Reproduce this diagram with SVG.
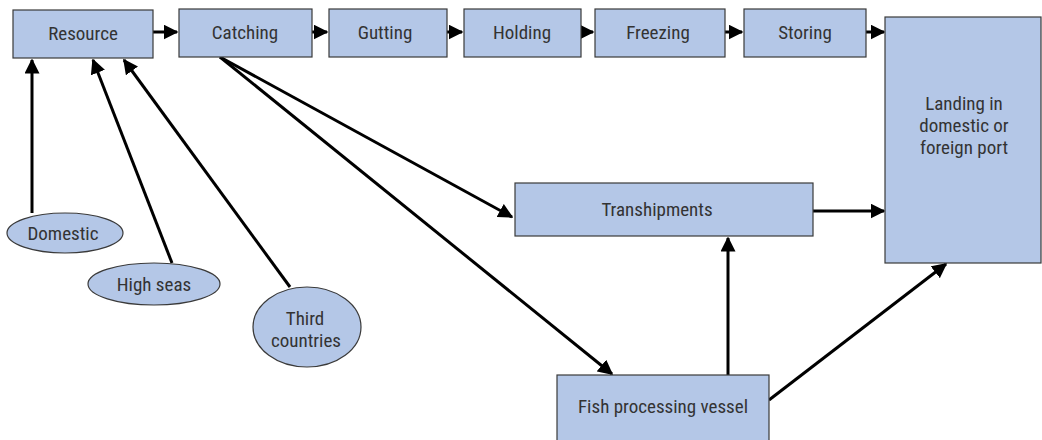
<svg xmlns="http://www.w3.org/2000/svg" width="1042" height="440" viewBox="0 0 1042 440">
<style>
.n{fill:#b4c7e7;stroke:#3a3a3a;stroke-width:1.2}
.t{font-family:Roboto,"Liberation Sans",sans-serif;font-size:19px;fill:#333;text-anchor:middle;font-stretch:condensed}
.c{stroke:#000;stroke-width:3;fill:none;marker-end:url(#a)}
</style>
<defs>
<marker id="a" markerWidth="5" markerHeight="5" refX="4.5" refY="2.5" orient="auto" markerUnits="strokeWidth">
<path d="M0,0 L5,2.5 L0,5 Z" fill="#000"/>
</marker>
</defs>
<g id="connectors">
<line class="c" x1="153" y1="32" x2="177" y2="32"/>
<line class="c" x1="312" y1="32" x2="327" y2="32"/>
<line class="c" x1="447" y1="32" x2="462" y2="32"/>
<line class="c" x1="581" y1="32" x2="593" y2="32"/>
<line class="c" x1="725" y1="32" x2="742" y2="32"/>
<line class="c" x1="866" y1="32" x2="884" y2="32"/>
<line class="c" x1="32" y1="213" x2="32" y2="60"/>
<line class="c" x1="172" y1="263" x2="93" y2="60"/>
<line class="c" x1="290" y1="287" x2="124" y2="60"/>
<line class="c" x1="220" y1="57" x2="512" y2="217"/>
<line class="c" x1="220" y1="57" x2="612" y2="374"/>
<line class="c" x1="813" y1="211" x2="884" y2="211"/>
<line class="c" x1="728" y1="375" x2="728" y2="238"/>
<line class="c" x1="769" y1="400" x2="946" y2="264"/>
</g>
<g id="resource"><rect class="n" x="13" y="10" width="140" height="48"/><text class="t" x="83" y="40">Resource</text></g>
<g id="catching"><rect class="n" x="179" y="9" width="133" height="48"/><text class="t" x="245" y="39">Catching</text></g>
<g id="gutting"><rect class="n" x="329" y="9" width="118" height="48"/><text class="t" x="385" y="39">Gutting</text></g>
<g id="holding"><rect class="n" x="464" y="9" width="117" height="48"/><text class="t" x="522" y="39">Holding</text></g>
<g id="freezing"><rect class="n" x="595" y="9" width="130" height="48"/><text class="t" x="658" y="39">Freezing</text></g>
<g id="storing"><rect class="n" x="744" y="9" width="122" height="48"/><text class="t" x="805" y="39">Storing</text></g>
<g id="landing"><rect class="n" x="885" y="17" width="156" height="246"/><text class="t" x="964" y="110">Landing in</text><text class="t" x="964" y="132">domestic or</text><text class="t" x="964" y="154">foreign port</text></g>
<g id="transhipments"><rect class="n" x="515" y="183" width="298" height="53"/><text class="t" x="657" y="216">Transhipments</text></g>
<g id="fpv"><rect class="n" x="557" y="375" width="212" height="70"/><text class="t" x="663" y="413">Fish processing vessel</text></g>
<g id="domestic"><ellipse class="n" cx="65" cy="233" rx="58" ry="20"/><text class="t" x="63" y="240">Domestic</text></g>
<g id="highseas"><ellipse class="n" cx="154" cy="284" rx="66" ry="21"/><text class="t" x="154" y="291">High seas</text></g>
<g id="third"><ellipse class="n" cx="307" cy="327" rx="54" ry="40"/><text class="t" x="305" y="325">Third</text><text class="t" x="306" y="347">countries</text></g>
</svg>
